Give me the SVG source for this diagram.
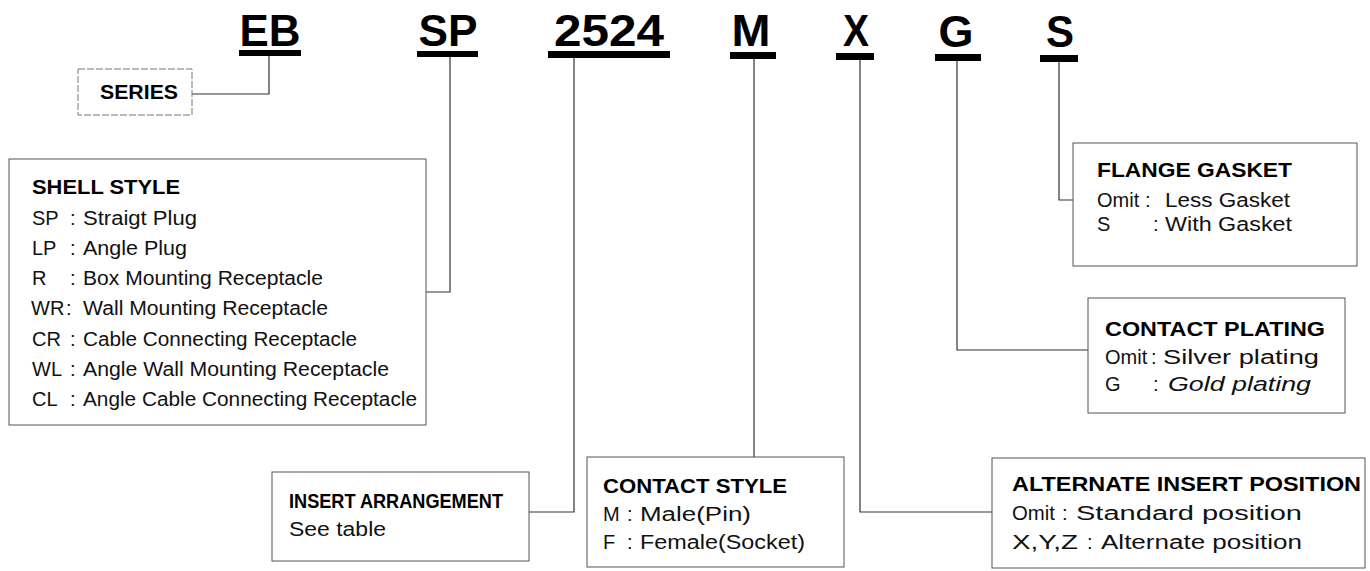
<svg xmlns="http://www.w3.org/2000/svg" width="1370" height="571" viewBox="0 0 1370 571">
<style>
  .code{font-family:"Liberation Sans",Arial,sans-serif;font-weight:bold;font-size:45px;fill:#000;text-anchor:middle}
  .bar{fill:#000}
  .box{fill:#fff;stroke:#555;stroke-width:1}
  .dbox{fill:#fff;stroke:#777;stroke-width:1;stroke-dasharray:7 2}
  .t{font-family:"Liberation Sans",Arial,sans-serif;font-weight:bold;font-size:20px;fill:#000}
  .b{font-family:"Liberation Sans",Arial,sans-serif;font-size:20px;fill:#111}
  .conn{fill:none;stroke:#333;stroke-width:1.2}
</style>
<rect width="1370" height="571" fill="#fff"/>

<g id="codes">
  <text class="code" x="270" y="46" textLength="61" lengthAdjust="spacingAndGlyphs">EB</text>
  <rect class="bar" x="239" y="50" width="62" height="6"/>
  <text class="code" x="448" y="46" textLength="59" lengthAdjust="spacingAndGlyphs">SP</text>
  <rect class="bar" x="417" y="51" width="61" height="6"/>
  <text class="code" x="609" y="46" textLength="110" lengthAdjust="spacingAndGlyphs">2524</text>
  <rect class="bar" x="548" y="51" width="122" height="7"/>
  <text class="code" x="751" y="46" textLength="39" lengthAdjust="spacingAndGlyphs">M</text>
  <rect class="bar" x="730" y="52" width="46" height="7"/>
  <text class="code" x="856" y="46" textLength="26" lengthAdjust="spacingAndGlyphs">X</text>
  <rect class="bar" x="836" y="53" width="38" height="7"/>
  <text class="code" x="956" y="47" textLength="35" lengthAdjust="spacingAndGlyphs">G</text>
  <rect class="bar" x="935" y="54" width="46" height="7"/>
  <text class="code" x="1060" y="47" textLength="28" lengthAdjust="spacingAndGlyphs">S</text>
  <rect class="bar" x="1040" y="55" width="38" height="7"/>
</g>

<g id="connectors">
  <path class="conn" d="M269,56 V94 H192"/>
  <path class="conn" d="M450,57 V292 H426"/>
  <path class="conn" d="M574,58 V512 H529"/>
  <path class="conn" d="M754,59 V457"/>
  <path class="conn" d="M860,60 V512 H992"/>
  <path class="conn" d="M957,61 V350 H1088"/>
  <path class="conn" d="M1059,62 V200 H1073"/>
</g>

<g id="series">
  <rect class="dbox" x="78" y="69" width="114" height="46"/>
  <text class="t" x="100" y="99" font-size="19" textLength="78" lengthAdjust="spacingAndGlyphs">SERIES</text>
</g>

<g id="shell-style">
  <rect class="box" x="9" y="159" width="417" height="266"/>
  <text class="t" x="32" y="194" textLength="148" lengthAdjust="spacingAndGlyphs">SHELL STYLE</text>
  <text class="b" x="32" y="225">SP</text><text class="b" x="70" y="225">:</text>
  <text class="b" x="83" y="225" textLength="114" lengthAdjust="spacingAndGlyphs">Straigt Plug</text>
  <text class="b" x="32" y="255">LP</text><text class="b" x="70" y="255">:</text>
  <text class="b" x="83" y="255" textLength="104" lengthAdjust="spacingAndGlyphs">Angle Plug</text>
  <text class="b" x="32" y="285">R</text><text class="b" x="70" y="285">:</text>
  <text class="b" x="83" y="285" textLength="240" lengthAdjust="spacingAndGlyphs">Box Mounting Receptacle</text>
  <text class="b" x="31" y="315">WR</text><text class="b" x="66" y="315">:</text>
  <text class="b" x="83" y="315" textLength="245" lengthAdjust="spacingAndGlyphs">Wall Mounting Receptacle</text>
  <text class="b" x="32" y="346">CR</text><text class="b" x="70" y="346">:</text>
  <text class="b" x="83" y="346" textLength="274" lengthAdjust="spacingAndGlyphs">Cable Connecting Receptacle</text>
  <text class="b" x="32" y="376">WL</text><text class="b" x="70" y="376">:</text>
  <text class="b" x="83" y="376" textLength="306" lengthAdjust="spacingAndGlyphs">Angle Wall Mounting Receptacle</text>
  <text class="b" x="32" y="406">CL</text><text class="b" x="70" y="406">:</text>
  <text class="b" x="83" y="406" textLength="334" lengthAdjust="spacingAndGlyphs">Angle Cable Connecting Receptacle</text>
</g>

<g id="insert-arrangement">
  <rect class="box" x="272" y="472" width="257" height="89"/>
  <text class="t" x="289" y="508" font-size="18" textLength="214" lengthAdjust="spacingAndGlyphs">INSERT ARRANGEMENT</text>
  <text class="b" x="289" y="536" textLength="97" lengthAdjust="spacingAndGlyphs">See table</text>
</g>

<g id="contact-style">
  <rect class="box" x="587" y="457" width="257" height="110"/>
  <text class="t" x="603" y="493" textLength="184" lengthAdjust="spacingAndGlyphs">CONTACT STYLE</text>
  <text class="b" x="603" y="521">M</text><text class="b" x="627" y="521">:</text>
  <text class="b" x="640" y="521" textLength="111" lengthAdjust="spacingAndGlyphs">Male(Pin)</text>
  <text class="b" x="603" y="549">F</text><text class="b" x="627" y="549">:</text>
  <text class="b" x="640" y="549" textLength="165" lengthAdjust="spacingAndGlyphs">Female(Socket)</text>
</g>

<g id="alternate-insert-position">
  <rect class="box" x="992" y="458" width="373" height="110"/>
  <text class="t" x="1012" y="491" textLength="349" lengthAdjust="spacingAndGlyphs">ALTERNATE INSERT POSITION</text>
  <text class="b" x="1012" y="520" textLength="43" lengthAdjust="spacingAndGlyphs">Omit</text><text class="b" x="1062" y="520">:</text>
  <text class="b" x="1076" y="520" textLength="226" lengthAdjust="spacingAndGlyphs">Standard position</text>
  <text class="b" x="1012" y="549" textLength="66" lengthAdjust="spacingAndGlyphs">X,Y,Z</text><text class="b" x="1087" y="549">:</text>
  <text class="b" x="1101" y="549" textLength="201" lengthAdjust="spacingAndGlyphs">Alternate position</text>
</g>

<g id="contact-plating">
  <rect class="box" x="1088" y="298" width="257" height="115"/>
  <text class="t" x="1105" y="336" textLength="220" lengthAdjust="spacingAndGlyphs">CONTACT PLATING</text>
  <text class="b" x="1105" y="364">Omit</text><text class="b" x="1151" y="364">:</text>
  <text class="b" x="1163" y="364" textLength="156" lengthAdjust="spacingAndGlyphs">Silver plating</text>
  <text class="b" x="1105" y="391">G</text><text class="b" x="1153" y="391">:</text>
  <text class="b" x="1168" y="391" textLength="143" lengthAdjust="spacingAndGlyphs" font-style="italic">Gold  plating</text>
</g>

<g id="flange-gasket">
  <rect class="box" x="1073" y="143" width="284" height="123"/>
  <text class="t" x="1097" y="177" textLength="195" lengthAdjust="spacingAndGlyphs">FLANGE GASKET</text>
  <text class="b" x="1097" y="207">Omit</text><text class="b" x="1145" y="207">:</text>
  <text class="b" x="1165" y="207" textLength="125" lengthAdjust="spacingAndGlyphs">Less Gasket</text>
  <text class="b" x="1097" y="231">S</text><text class="b" x="1153" y="231">:</text>
  <text class="b" x="1165" y="231" textLength="127" lengthAdjust="spacingAndGlyphs">With Gasket</text>
</g>
</svg>
